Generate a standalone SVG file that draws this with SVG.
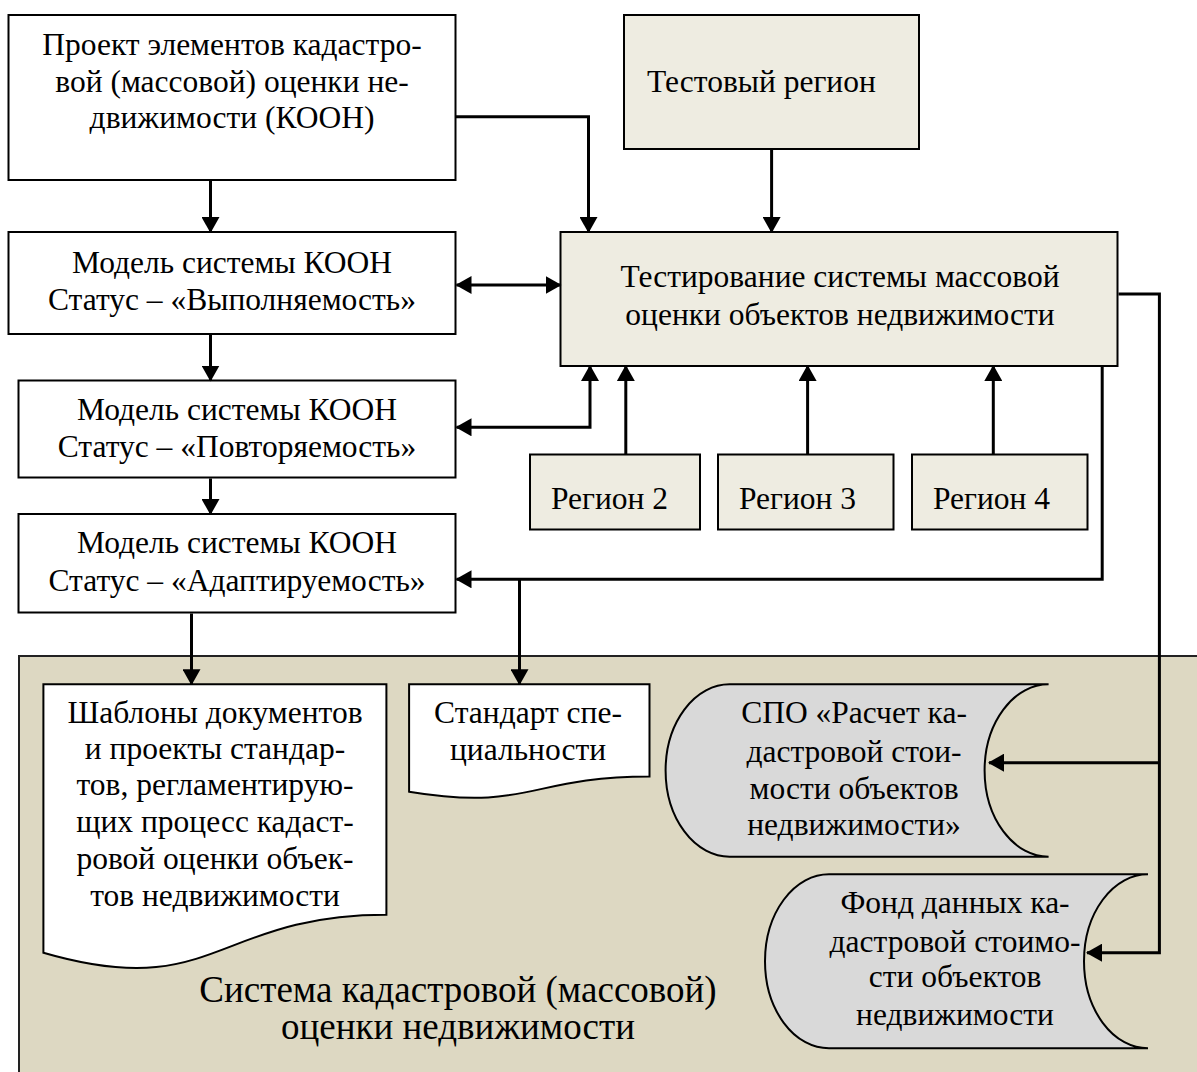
<svg xmlns="http://www.w3.org/2000/svg" width="1197" height="1072" viewBox="0 0 1197 1072">
<defs>
<style>
.box{stroke:#000;stroke-width:2}
.w{fill:#fff}
.b{fill:#EEECE1}
.g{fill:#D9D9D9}
.t{font-family:"Liberation Serif","Times New Roman",serif;font-size:31.5px;fill:#000}
.c{text-anchor:middle}
.big{font-size:37px}
.con{fill:none;stroke:#000;stroke-width:3}
.a{marker-end:url(#ah)}
.a2{marker-start:url(#ah);marker-end:url(#ah)}
</style>
<marker id="ah" viewBox="0 0 16 18" refX="15" refY="9" markerWidth="16" markerHeight="18" markerUnits="userSpaceOnUse" orient="auto-start-reverse">
<path d="M0,0 L16,9 L0,18 Z" fill="#000"/>
</marker>
</defs>
<rect width="1197" height="1072" fill="#fff"/>

<g id="system">
<rect x="19" y="656" width="1200" height="440" fill="#DDD8C2" stroke="#222" stroke-width="2"/>
<text class="t c big" x="458" y="1002">Система кадастровой (массовой)</text>
<text class="t c big" x="458" y="1039">оценки недвижимости</text>
</g>

<g id="project">
<rect class="box w" x="8.5" y="15" width="447" height="165"/>
<text class="t c" x="232" y="55">Проект элементов кадастро-</text>
<text class="t c" x="232" y="92">вой (массовой) оценки не-</text>
<text class="t c" x="232" y="128">движимости (КООН)</text>
</g>

<g id="model1">
<rect class="box w" x="8.5" y="232" width="447" height="102"/>
<text class="t c" x="232" y="273">Модель системы КООН</text>
<text class="t c" x="232" y="310">Статус – «Выполняемость»</text>
</g>

<g id="model2">
<rect class="box w" x="18.5" y="380.5" width="437" height="97"/>
<text class="t c" x="237" y="420">Модель системы КООН</text>
<text class="t c" x="237" y="457">Статус – «Повторяемость»</text>
</g>

<g id="model3">
<rect class="box w" x="18.5" y="514" width="437" height="98.5"/>
<text class="t c" x="237" y="553">Модель системы КООН</text>
<text class="t c" x="237" y="591">Статус – «Адаптируемость»</text>
</g>

<g id="test-region">
<rect class="box b" x="624" y="15" width="295" height="134"/>
<text class="t" x="647" y="92">Тестовый регион</text>
</g>

<g id="testing">
<rect class="box b" x="560.5" y="232" width="557" height="134"/>
<text class="t c" x="840" y="287">Тестирование системы массовой</text>
<text class="t c" x="840" y="325">оценки объектов недвижимости</text>
</g>

<g id="region2">
<rect class="box b" x="530" y="454.5" width="170" height="75"/>
<text class="t" x="551" y="509">Регион 2</text>
</g>
<g id="region3">
<rect class="box b" x="718" y="454.5" width="175.5" height="75"/>
<text class="t" x="739" y="509">Регион 3</text>
</g>
<g id="region4">
<rect class="box b" x="912" y="454.5" width="175.5" height="75"/>
<text class="t" x="933" y="509">Регион 4</text>
</g>

<g id="templates">
<path class="box w" d="M43.4,684.3 H386.4 V914.8 C214.9,914.8 214.9,1002.6 43.4,952.7 Z"/>
<text class="t c" x="215" y="723">Шаблоны документов</text>
<text class="t c" x="215" y="758.5">и проекты стандар-</text>
<text class="t c" x="215" y="795">тов, регламентирую-</text>
<text class="t c" x="215" y="831.5">щих процесс кадаст-</text>
<text class="t c" x="215" y="869">ровой оценки объек-</text>
<text class="t c" x="215" y="906">тов недвижимости</text>
</g>

<g id="standard">
<path class="box w" d="M409.1,684.3 H649.5 V776.5 C529.3,776.5 529.3,811.7 409.1,791.7 Z"/>
<text class="t c" x="528" y="723">Стандарт спе-</text>
<text class="t c" x="528" y="760">циальности</text>
</g>

<g id="spo">
<path class="box g" d="M729.6,684.3 H1048.6 A64,86.2 0 0 0 984.6,770.5 A64,86.2 0 0 0 1048.6,856.7 H729.6 A64,86.2 0 0 1 665.6,770.5 A64,86.2 0 0 1 729.6,684.3 Z"/>
<text class="t c" x="854" y="723">СПО «Расчет ка-</text>
<text class="t c" x="854" y="761.5">дастровой стои-</text>
<text class="t c" x="854" y="798.5">мости объектов</text>
<text class="t c" x="854" y="835">недвижимости»</text>
</g>

<g id="fund">
<path class="box g" d="M829,874.3 H1148 A64,87 0 0 0 1084,961.3 A64,87 0 0 0 1148,1048.3 H829 A64,87 0 0 1 765,961.3 A64,87 0 0 1 829,874.3 Z"/>
<text class="t c" x="955" y="913">Фонд данных ка-</text>
<text class="t c" x="955" y="951.5">дастровой стоимо-</text>
<text class="t c" x="955" y="987">сти объектов</text>
<text class="t c" x="955" y="1025">недвижимости</text>
</g>

<g id="connectors">
<path class="con a" d="M210.5,181 V232"/>
<path class="con a" d="M456,116.7 H588.5 V232"/>
<path class="con a" d="M771.6,150 V232"/>
<path class="con a2" d="M456.5,285 H560.5"/>
<path class="con a" d="M210.5,335 V380.5"/>
<path class="con a2" d="M456.5,427.3 H590 V366"/>
<path class="con a" d="M625.8,454.5 V366"/>
<path class="con a" d="M807.6,454.5 V366"/>
<path class="con a" d="M993.3,454.5 V366"/>
<path class="con a" d="M210.5,478.5 V514"/>
<path class="con a" d="M1102.2,366 V579.3 H456.5"/>
<path class="con a" d="M519.5,579.3 V684.3"/>
<path class="con a" d="M191.5,613.5 V684.3"/>
<path class="con a" d="M1118.5,294 H1159.4 V952.7 H1087"/>
<path class="con a" d="M1159.4,762.7 H989"/>
</g>
</svg>
